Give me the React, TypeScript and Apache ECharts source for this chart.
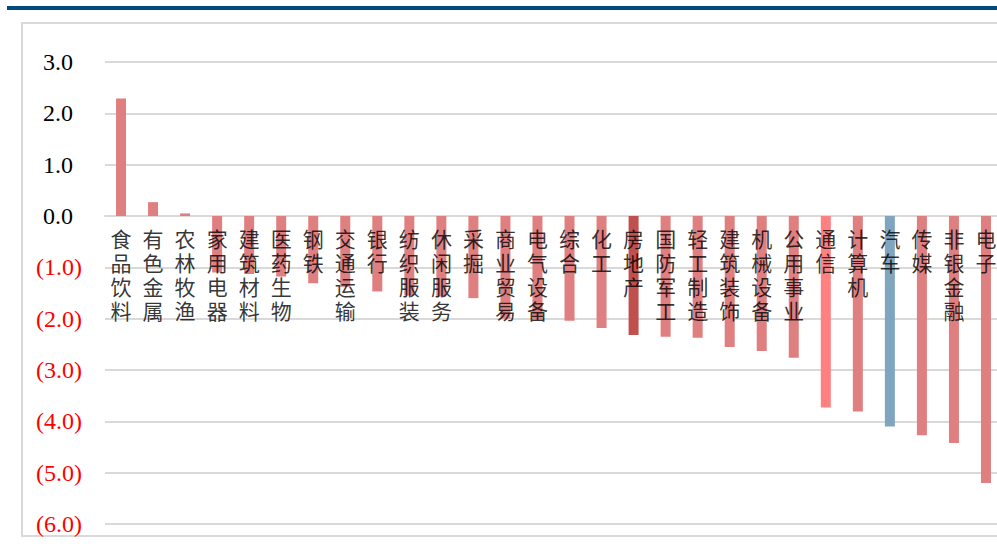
import React, { useEffect, useRef } from "react";
import * as echarts from "echarts";

const categories = [
  "食品饮料", "有色金属", "农林牧渔", "家用电器", "建筑材料", "医药生物", "钢铁",
  "交通运输", "银行", "纺织服装", "休闲服务", "采掘", "商业贸易", "电气设备",
  "综合", "化工", "房地产", "国防军工", "轻工制造", "建筑装饰", "机械设备",
  "公用事业", "通信", "计算机", "汽车", "传媒", "非银金融", "电子",
];
const values = [
  2.29, 0.27, 0.05, -1.1, -1.13, -1.18, -1.31,
  -1.38, -1.47, -1.55, -1.57, -1.6, -2.0, -2.02,
  -2.04, -2.18, -2.32, -2.35, -2.37, -2.55, -2.63,
  -2.76, -3.73, -3.81, -4.1, -4.27, -4.42, -5.2,
];
const yTicks = { min: -6, max: 3, interval: 1 };

const BASE_COLOR = "#E07F80";
const SPECIAL_COLORS: Record<string, string> = {
  "房地产": "#C0504D",
  "通信": "#FF8080",
  "汽车": "#80A6BF",
};

export default function App() {
  const ref = useRef<HTMLDivElement>(null);
  useEffect(() => {
    if (!ref.current) return;
    const chart = echarts.init(ref.current, null, { renderer: "svg" });
    chart.setOption({
      animation: false,
      backgroundColor: "#ffffff",
      graphic: [
        { type: "rect", shape: { x: 7, y: 6, width: 990, height: 4 }, style: { fill: "#004A80" }, z: 0 },
        { type: "rect", shape: { x: 22, y: 23, width: 990, height: 513 }, style: { fill: "none", stroke: "#D9D9D9", lineWidth: 2 }, z: 0 },
      ],
      grid: { left: 105, top: 62, width: 897, height: 462, containLabel: false, outerBoundsMode: "none" },
      xAxis: {
        type: "category",
        data: categories,
        axisLine: { show: true, onZero: true, lineStyle: { color: "#D9D9D9", width: 2 } },
        axisTick: { show: false },
        axisLabel: { show: false },
      },
      yAxis: {
        type: "value",
        min: yTicks.min,
        max: yTicks.max,
        interval: yTicks.interval,
        axisLine: { show: false },
        axisTick: { show: false },
        splitLine: { lineStyle: { color: "#D9D9D9", width: 2 } },
        axisLabel: {
          margin: 23,
          fontFamily: "Liberation Serif",
          fontSize: 24,
          formatter: (v: number) =>
            v >= 0 ? `{p|${v.toFixed(1)}}` : `{n|(${Math.abs(v).toFixed(1)})}`,
          rich: {
            p: { color: "#000", fontFamily: "Liberation Serif", fontSize: 24, padding: [0, 9, 0, 0] },
            n: { color: "#FF0000", fontFamily: "Liberation Serif", fontSize: 24 },
          },
        },
      },
      series: [
        {
          type: "bar",
          barWidth: 10,
          z: 2,
          data: values.map((v, i) => ({
            value: v,
            itemStyle: { color: SPECIAL_COLORS[categories[i]] || BASE_COLOR },
          })),
        },
        {
          type: "scatter",
          z: 5,
          symbolSize: 0,
          silent: true,
          data: categories.map((c) => [c, 0]),
          label: {
            show: true,
            position: "bottom",
            distance: 10,
            color: "#000",
            fontSize: 21,
            lineHeight: 24,
            fontFamily: "Noto Sans CJK SC",
            formatter: (p: any) => String(p.value[0]).split("").join("\n"),
          },
        },
      ],
    });
    return () => chart.dispose();
  }, []);
  return (
    <div
      ref={ref}
      style={{ position: "absolute", left: 0, top: 0, width: 997, height: 544 }}
    />
  );
}
